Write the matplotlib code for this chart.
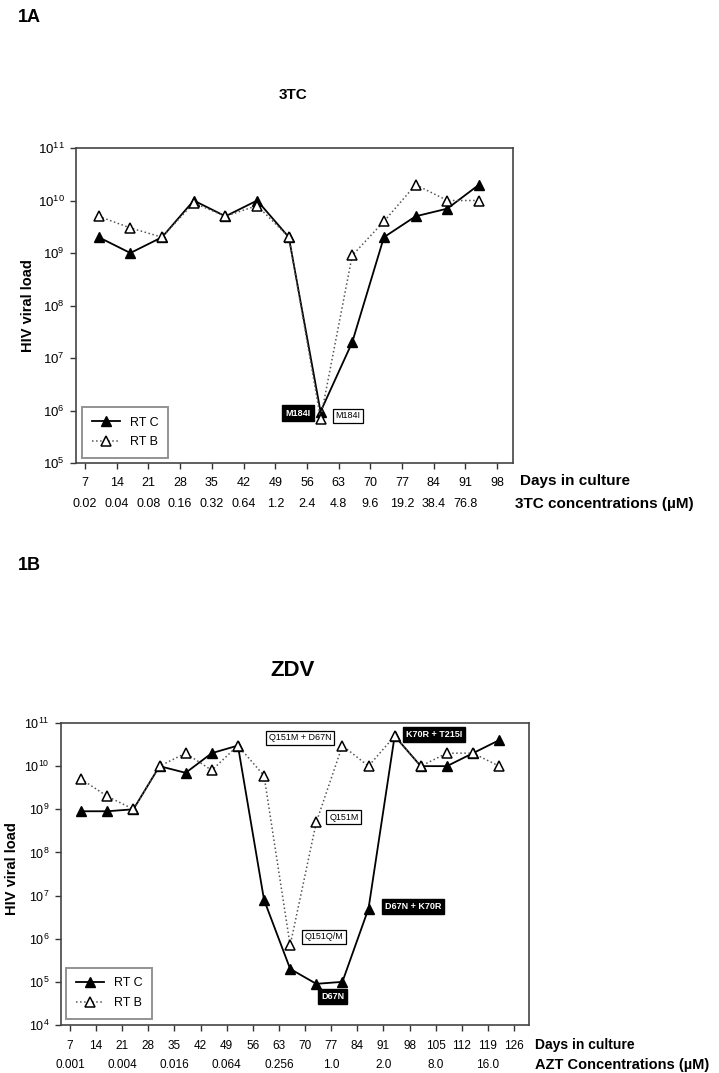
import numpy as np
import matplotlib.pyplot as plt
from matplotlib.ticker import FixedLocator, LogLocator, NullLocator

plt.rcParams['font.family'] = ['Liberation Sans', 'DejaVu Sans']

# ---- 1A : 3TC ----
days_a = [10, 17, 24, 31, 38, 45, 52, 59, 66, 73, 80, 87, 94]
rtc_a = [2e9, 1e9, 2e9, 1e10, 5e9, 1e10, 2e9, 9.5e5, 2e7, 2e9, 5e9, 7e9, 2e10]
rtb_a = [5e9, 3e9, 2e9, 9e9, 5e9, 8e9, 2e9, 7e5, 9e8, 4e9, 2e10, 1e10, 1e10]
ticks_a = list(range(7, 99, 7))
conc_ticks_a = list(range(7, 92, 7))
conc_a = ['0.02', '0.04', '0.08', '0.16', '0.32', '0.64', '1.2', '2.4', '4.8',
          '9.6', '19.2', '38.4', '76.8']
notes_a = ['M184I', 'M184I']
notes_a_pos = [(54.0, 8.9e5), (65.1, 7.9e5)]
notes_a_dark = [True, False]

# ---- 1B : ZDV ----
days_b = [10, 17, 24, 31, 38, 45, 52, 59, 66, 73, 80, 87, 94, 101, 108, 115, 122]
rtc_b = [9e8, 9e8, 1e9, 1e10, 7e9, 2e10, 3e10, 8e6, 2e5, 9e4, 1e5, 5e6, 5e10,
         1e10, 1e10, 2e10, 4e10]
rtb_b = [5e9, 2e9, 1e9, 1e10, 2e10, 8e9, 3e10, 6e9, 7e5, 5e8, 3e10, 1e10, 5e10,
         1e10, 2e10, 2e10, 1e10]
ticks_b = list(range(7, 127, 7))
conc_ticks_b = list(range(7, 120, 14))
conc_b = ['0.001', '0.004', '0.016', '0.064', '0.256', '1.0', '2.0', '8.0', '16.0']
notes_b = ['Q151M + D67N', 'K70R + T215I', 'Q151M', 'D67N + K70R', 'Q151Q/M', 'D67N']
notes_b_pos = [(68.6, 4.5e10), (104.6, 5.5e10), (80.4, 6.6e8), (98.9, 5.5e6),
               (75.0, 1.1e6), (77.4, 4.5e4)]
notes_b_dark = [False, True, False, True, False, True]

W, H = 719, 1073
fig = plt.figure(figsize=(W / 100, H / 100), dpi=100)


def px_axes(l, t, r, b):
    return fig.add_axes([l / W, 1 - b / H, (r - l) / W, (b - t) / H])


def draw(ax, days, rtc, rtb, ticks, xlim, ylim, conc_ticks, conc, conc_name,
         notes, notes_pos, notes_dark, tsize, ysize, xpad, lab_off, leg_off):
    ax.plot(days, rtc, '-', color='black', lw=1.3, marker='^', ms=7,
            mfc='black', mec='black', label='RT C', zorder=3)
    ax.plot(days, rtb, ':', color='#555555', lw=1.1, marker='^', ms=7,
            mfc='white', mec='black', mew=1.1, label='RT B', zorder=4)
    ax.set_yscale('log')
    ax.set_xlim(*xlim)
    ax.set_ylim(*ylim)
    ax.yaxis.set_major_locator(LogLocator(base=10, numticks=12))
    ax.yaxis.set_minor_locator(NullLocator())
    ax.xaxis.set_major_locator(FixedLocator(ticks))
    ax.set_xticklabels([str(t) for t in ticks])
    ax.tick_params(axis='both', length=4, width=1.0, color='#333333')
    ax.tick_params(axis='x', labelsize=tsize, pad=xpad)
    ax.tick_params(axis='y', labelsize=ysize, pad=4)
    for s in ax.spines.values():
        s.set_color('#444444')
        s.set_linewidth(1.2)
    for x, c in zip(conc_ticks, conc):
        ax.annotate(c, xy=(x, 0), xycoords=('data', 'axes fraction'),
                    xytext=(0, -lab_off[1]), textcoords='offset points',
                    ha='center', va='center', fontsize=tsize)
    ax.annotate('Days in culture', xy=(1, 0), xycoords='axes fraction',
                xytext=(lab_off[2], -lab_off[0]), textcoords='offset points',
                ha='left', va='center', fontsize=lab_off[4], fontweight='bold')
    ax.annotate(conc_name, xy=(1, 0), xycoords='axes fraction',
                xytext=(lab_off[3], -lab_off[1]), textcoords='offset points',
                ha='left', va='center', fontsize=lab_off[5], fontweight='bold')
    for txt, (x, y), dark in zip(notes, notes_pos, notes_dark):
        if dark:
            ax.text(x, y, txt, ha='center', va='center', fontsize=6.5,
                    fontweight='bold', color='white', zorder=6,
                    bbox=dict(boxstyle='square,pad=0.35', fc='black', ec='black'))
        else:
            ax.text(x, y, txt, ha='center', va='center', fontsize=6.5,
                    color='black', zorder=6,
                    bbox=dict(boxstyle='square,pad=0.3', fc='white', ec='black', lw=0.9))
    leg = ax.legend(loc='lower left', bbox_to_anchor=leg_off, borderaxespad=0,
                    fontsize=9, fancybox=False, handlelength=2.2,
                    borderpad=0.8, labelspacing=0.6)
    leg.get_frame().set_edgecolor('#777777')
    leg.get_frame().set_linewidth(1.4)


# top panel
ax1 = px_axes(76, 148, 513, 463)
draw(ax1, days_a, rtc_a, rtb_a, ticks_a, (5.0, 101.5), (1e5, 1e11),
     conc_ticks_a, conc_a, '3TC concentrations (µM)',
     notes_a, notes_a_pos, notes_a_dark, 9, 9.5, 6, (13, 29.5, 5, 1.5, 11, 11),
     (6 / 437, 5 / 315))
ax1.set_ylabel('HIV viral load', fontsize=10.5, fontweight='bold')
ax1.yaxis.set_label_coords(-41 / 437, 0.5)

# bottom panel
ax2 = px_axes(61, 723, 529, 1025)
draw(ax2, days_b, rtc_b, rtb_b, ticks_b, (4.6, 130.0), (1e4, 1e11),
     conc_ticks_b, conc_b, 'AZT Concentrations (µM)',
     notes_b, notes_b_pos, notes_b_dark, 8.5, 9, 7, (14.4, 28.5, 4.3, 4.3, 10, 10.5),
     (5 / 468, 6 / 302))
ax2.set_ylabel('HIV viral load', fontsize=10.5, fontweight='bold')
ax2.yaxis.set_label_coords(-42 / 468, 0.517)

fig.text(18 / W, 1 - 18 / H, '1A', fontsize=13, fontweight='bold', ha='left', va='center')
fig.text(18 / W, 1 - 565 / H, '1B', fontsize=13, fontweight='bold', ha='left', va='center')
fig.text(293 / W, 1 - 95 / H, '3TC', fontsize=11, fontweight='bold', ha='center', va='center')
fig.text(293 / W, 1 - 670 / H, 'ZDV', fontsize=16, fontweight='bold', ha='center', va='center')

fig.savefig('out.png', dpi=100)
